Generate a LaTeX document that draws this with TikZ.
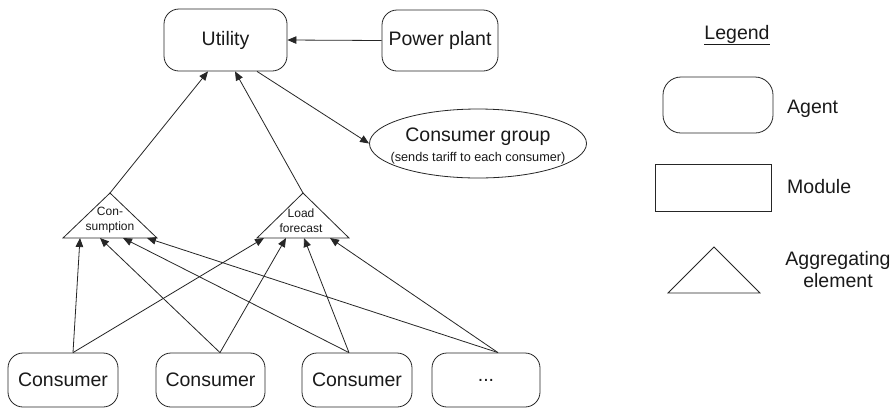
\documentclass[tikz,border=0pt]{standalone}
\usepackage{fontspec}
\setmainfont{Liberation Sans}
\usetikzlibrary{arrows.meta,shapes.geometric}
\definecolor{linec}{HTML}{262626}
\definecolor{textc}{HTML}{1A1A1A}
\begin{document}
\begin{tikzpicture}[x=1pt,y=-1pt,
  big/.style={font=\fontsize{19.5}{22}\selectfont, text=textc},
  small/.style={font=\fontsize{12}{15}\selectfont, text=textc, align=center, inner sep=0pt},
  agent/.style={draw=linec, line width=0.8pt, rounded corners=15pt, inner sep=0pt, big},
  modbox/.style={draw=linec, line width=0.8pt, inner sep=0pt},
  tri/.style={draw=linec, line width=0.8pt, line join=miter},
  arr/.style={draw=linec, line width=0.8pt, -{Triangle[length=9pt,width=7.5pt]}},
  lbl/.style={big, inner sep=0pt}
]
\useasboundingbox[fill=white] (0,0) rectangle (893,408);

% agents
\node[agent, minimum width=123pt, minimum height=62pt] (util) at (225.5,40) {Utility};
\node[agent, minimum width=116pt, minimum height=61pt] (pp) at (440,40.5) {Power plant};
\node[ellipse, draw=linec, line width=0.8pt, minimum width=217pt, minimum height=69pt, inner sep=0pt] (cg) at (478,143.5) {};
\node[lbl] (cgt) at (478,137) {Consumer group};
\node[font=\fontsize{12.7}{15}\selectfont, text=textc, inner sep=0pt] (cgs) at (478,158.5) {(sends tariff to each consumer)};

\node[agent, minimum width=110pt, minimum height=54pt] (c1) at (63,380) {Consumer};
\node[agent, minimum width=109pt, minimum height=54pt] (c2) at (210.5,380) {Consumer};
\node[agent, minimum width=110pt, minimum height=54pt] (c3) at (357,380) {Consumer};
\node[agent, minimum width=108pt, minimum height=54pt] (c4) at (486,380) {...};

% aggregating elements
\coordinate (conapex) at (110,193);
\coordinate (conbase) at (110,238);
\draw[tri] (conapex) -- (157,238) -- (63,238) -- cycle;
\node[small] (con) at (110,220.5) {Con-\\sumption};
\coordinate (ldapex) at (303,193);
\coordinate (ldbase) at (303,238);
\draw[tri] (ldapex) -- (349,238) -- (257,238) -- cycle;
\node[small] (ld) at (301,220.5) {Load\\forecast};

% connectors
\draw[arr] (pp.west) -- (util.east);
\draw[arr] ([xshift=31.5pt]util.south) -- (cg.west);
\draw[arr] (conapex) -- ([xshift=-17.5pt]util.south);
\draw[arr] (ldapex) -- ([xshift=9.5pt]util.south);

\draw[arr] ([xshift=10pt]c1.north) -- ([xshift=-30pt]conbase);
\draw[arr] ([xshift=9.5pt]c2.north) -- ([xshift=-10pt]conbase);
\draw[arr] ([xshift=-8pt]c3.north) -- ([xshift=13pt]conbase);
\draw[arr] ([xshift=12pt]c4.north) -- ([xshift=37pt]conbase);

\draw[arr] ([xshift=10pt]c1.north) -- ([xshift=-39pt]ldbase);
\draw[arr] ([xshift=9.5pt]c2.north) -- ([xshift=-17pt]ldbase);
\draw[arr] ([xshift=-8pt]c3.north) -- ([xshift=1pt]ldbase);
\draw[arr] ([xshift=12pt]c4.north) -- ([xshift=27pt]ldbase);

% legend
\node[lbl] (leg) at (737,35) {\underline{Legend}};
\node[agent, rounded corners=18pt, minimum width=110pt, minimum height=56pt] (lagent) at (718,105) {};
\node[lbl, anchor=west] (lagentt) at (787,109) {Agent};
\node[modbox, minimum width=116pt, minimum height=47pt] (lmod) at (713,187.5) {};
\node[lbl, anchor=west] (lmodt) at (787,186.5) {Module};
\draw[tri] (714,247) -- (760,293) -- (668,293) -- cycle;
\node[lbl, align=center, font=\fontsize{19.5}{22}\selectfont] (laggt) at (838,270) {Aggregating\\element};
\end{tikzpicture}
\end{document}
